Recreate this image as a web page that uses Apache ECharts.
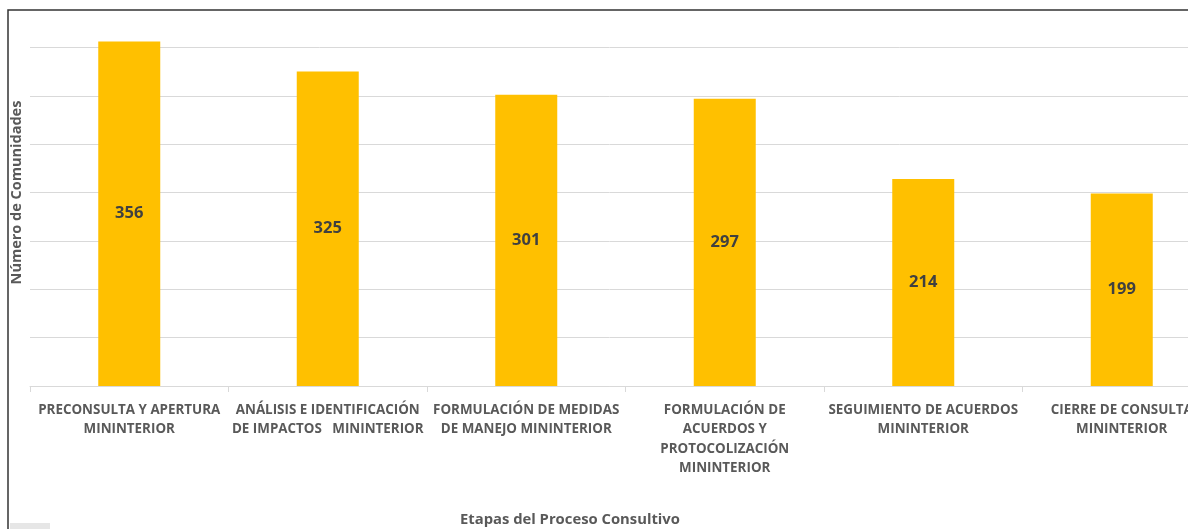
<!DOCTYPE html>
<html>
<head>
<meta charset="utf-8">
<script src="https://cdn.jsdelivr.net/npm/echarts@6/dist/echarts.min.js"></script>
<style>
html, body { margin: 0; padding: 0; background: #fff; }
#chart { width: 1188px; height: 529px; }
</style>
</head>
<body>
<div id="chart"></div>
<script>
var etapas = [
    'PRECONSULTA Y APERTURA\nMININTERIOR',
    'ANÁLISIS E IDENTIFICACIÓN\nDE IMPACTOS   MININTERIOR',
    'FORMULACIÓN DE MEDIDAS\nDE MANEJO MININTERIOR',
    'FORMULACIÓN DE\nACUERDOS Y\nPROTOCOLIZACIÓN\nMININTERIOR',
    'SEGUIMIENTO DE ACUERDOS\nMININTERIOR',
    'CIERRE DE CONSULTA\nMININTERIOR'
];
var comunidades = [356, 325, 301, 297, 214, 199];

var chart = echarts.init(document.getElementById('chart'));
var option = {
    animation: false,
    textStyle: { fontFamily: '"Open Sans", sans-serif' },
    title: {
        text: 'Etapas del Proceso Consultivo',
        left: 460,
        top: 512,
        padding: 0,
        textStyle: { fontSize: 14.8, fontWeight: 'bold', color: '#595959', fontFamily: '"Open Sans", sans-serif' }
    },
    // plot area runs past the right edge of the picture, like the cropped original
    grid: { left: 30, width: 1191, top: -1, bottom: 143, containLabel: false, outerBoundsMode: 'none' },
    graphic: [
        {
            type: 'rect',
            shape: { x: 8, y: 10, width: 1400, height: 700 },
            style: { fill: 'none', stroke: '#333', lineWidth: 1.5 },
            silent: true
        },
        {
            type: 'rect',
            shape: { x: 10, y: 523, width: 40, height: 10 },
            style: { fill: '#e6e6e6' },
            silent: true
        }
    ],
    xAxis: {
        type: 'category',
        data: etapas,
        axisLine: { lineStyle: { color: '#d9d9d9', width: 1 } },
        axisTick: { show: true, length: 6, lineStyle: { color: '#d9d9d9' } },
        axisLabel: {
            interval: 0,
            margin: 14,
            fontSize: 13.4,
            fontWeight: 'bold',
            lineHeight: 19.5,
            color: '#595959',
            align: 'center'
        }
    },
    yAxis: {
        type: 'value',
        min: 0,
        max: 400,
        interval: 50,
        name: 'Número de Comunidades',
        nameLocation: 'middle',
        nameRotate: 90,
        nameGap: 6,
        nameTextStyle: { fontSize: 14.5, fontWeight: 'bold', color: '#595959' },
        axisLine: { show: false },
        axisTick: { show: false },
        axisLabel: { show: false },
        splitLine: { lineStyle: { color: '#d9d9d9', width: 1 } }
    },
    series: [
        {
            type: 'bar',
            data: comunidades,
            barWidth: 62,
            itemStyle: { color: '#ffc000' },
            label: {
                show: true,
                position: 'inside',
                fontSize: 16.5,
                fontWeight: 'bold',
                color: '#404040'
            }
        }
    ]
};
chart.setOption(option);
</script>
</body>
</html>
